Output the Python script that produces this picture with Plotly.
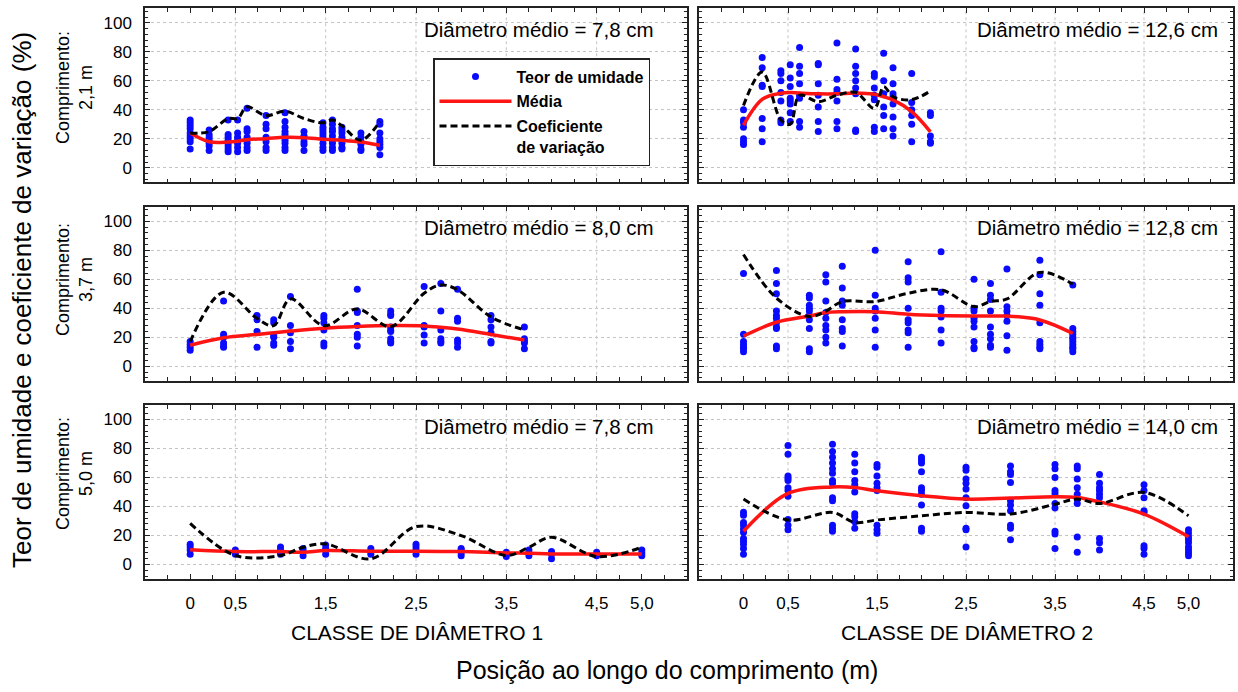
import plotly.graph_objects as go

# ---------------- data ----------------
# measurement positions along the log (m)
POS_21 = [0, 0.21, 0.42, 0.525, 0.63, 0.84, 1.05, 1.26, 1.47, 1.575, 1.68, 1.89, 2.1]
POS_37 = [0, 0.37, 0.74, 0.925, 1.11, 1.48, 1.85, 2.22, 2.59, 2.775, 2.96, 3.33, 3.7]
POS_50 = [0, 0.5, 1.0, 1.25, 1.5, 2.0, 2.5, 3.0, 3.5, 3.75, 4.0, 4.5, 5.0]

# Panel 1: class 1, length 2.1 m
MOIST_1 = [[33, 31, 29, 27, 24, 22, 20, 18, 13], [26, 23, 21, 19, 17, 15, 12],
           [33, 23, 21, 19, 17, 15, 13, 11], [33, 24, 21, 19, 17, 14, 11],
           [41, 27, 25, 21, 19, 17, 14, 12], [36, 30, 27, 21, 18, 14, 12],
           [38, 32, 28, 25, 23, 21, 19, 17, 14, 12], [25, 22, 21, 18, 16, 12],
           [31, 28, 26, 24, 22, 20, 17, 14, 12], [33, 30, 27, 25, 22, 19, 17, 14, 12],
           [28, 26, 24, 21, 19, 17, 14, 13], [24, 21, 18, 16, 13, 12],
           [32, 30, 24, 20, 18, 16, 14, 9]]
MEAN_1 = [24, 18, 17.8, 18.3, 19.4, 20.1, 21, 20.8, 19.7, 19.4, 19, 17.8, 15.5]
CV_1 = [24, 25, 34, 34, 42, 36, 39, 34, 31, 33, 29, 19, 32]

# Panel 2: class 2, length 2.1 m
MOIST_2 = [[40, 33, 31, 28, 20, 18, 16], [76, 69, 57, 56, 34, 27, 18],
           [67, 65, 60, 52, 46, 33, 31], [71, 62, 56, 48, 46, 44, 38, 32],
           [83, 70, 65, 58, 50, 48, 32, 28], [72, 71, 58, 50, 42, 32, 25],
           [86, 61, 54, 52, 46, 32, 27], [82, 70, 65, 60, 55, 51, 26, 25],
           [65, 63, 55, 50, 47, 28, 25], [79, 60, 51, 42, 36, 27],
           [69, 58, 51, 49, 44, 35, 27, 22], [65, 45, 40, 36, 30, 18],
           [38, 36, 22, 18, 17]]
MEAN_2 = [29.4, 47.2, 51.4, 52, 51.6, 51, 51, 51.6, 50.7, 49, 46.8, 38.7, 24.8]
CV_2 = [43, 66, 33, 30, 50, 45.6, 50, 52, 41, 56, 49, 47, 53]

# Panel 3: class 1, length 3.7 m
MOIST_3 = [[17, 15, 13, 11], [45, 22, 20, 16, 14, 13], [35, 32, 24, 13],
           [32, 30, 21, 20, 16, 14.5], [48, 28, 23, 17, 12], [35, 33, 30, 25, 16, 14],
           [53, 38, 37, 28, 22, 20, 14], [38, 36, 35, 27, 25, 24, 19, 17, 16],
           [55, 28, 27, 21.5, 16], [57, 38, 25, 19, 17, 16], [53, 33, 31, 18, 16, 13],
           [35, 32, 27, 23, 17, 16], [27, 19, 17, 16, 12]]
MEAN_3 = [14.5, 19.6, 21.9, 23.1, 24.2, 26.1, 27.3, 28, 27.7, 26.8, 25.6, 21.9, 18]
CV_3 = [17, 51, 33, 28, 46.4, 28, 39.5, 27.3, 50.3, 56, 52.7, 34, 25]

# Panel 4: class 2, length 3.7 m
MOIST_4 = [[64, 22, 17, 15, 13, 12, 10], [66, 57, 50, 38, 35, 33, 30, 27, 26, 14, 12],
           [49, 47, 42, 40, 38, 35, 32, 26, 12, 10], [63, 58, 45, 37, 33, 28, 25, 20, 16],
           [69, 54, 45, 42, 32, 26, 24, 14], [80, 49, 40, 38, 33, 25, 13],
           [72, 61, 58, 40, 32, 30, 25, 23, 13], [79, 51, 40, 38, 34, 25, 16],
           [60, 40, 38, 33, 31, 27, 17, 13, 12], [57, 49, 46, 38, 27, 22, 19, 14.5, 13],
           [67, 41, 38, 35, 31, 21, 11], [73, 63, 50, 42, 30, 17, 15, 13, 12],
           [56, 26, 24, 22, 20, 19, 17, 15, 13, 12, 10]]
MEAN_4 = [20.8, 30.3, 34.6, 37, 37.6, 37.6, 35.8, 34.9, 34.6, 34.6, 34.6, 31.9, 22.6]
CV_4 = [77, 47, 34.2, 38, 44.6, 44.6, 50.3, 52.7, 41.1, 44.6, 46.4, 64.7, 56.6]

# Panel 5: class 1, length 5.0 m
MOIST_5 = [[14, 12, 10, 7], [10, 8.5, 7], [12, 10, 8.5, 7], [11, 9, 6], [13.5, 11, 9.6, 7],
           [11, 9, 7], [14, 12, 10, 7], [11, 10, 8, 6], [8.5, 7, 5.5], [10, 8, 6],
           [9, 7, 4], [8.5, 6], [10, 8, 6]]
MEAN_5 = [10.1, 8.9, 8.9, 8.5, 9.6, 9.2, 9.2, 8.9, 8, 7.8, 7.3, 7.3, 7.3]
CV_5 = [28.4, 6.2, 6.2, 11.9, 14.2, 3.9, 26.1, 19.9, 6.2, 11.9, 18.8, 5.5, 11.9]

# Panel 6: class 2, length 5.0 m
MOIST_6 = [[36, 34, 29, 27, 24.5, 22, 18, 16, 14, 11, 7],
           [82, 76, 61, 59.5, 58, 53, 51, 47, 31, 27, 24],
           [83, 78, 74, 70, 66, 63, 58, 56, 46, 44, 27, 25, 23],
           [76, 70, 64, 58, 55, 50, 35, 33, 29.5, 25],
           [69, 67, 61, 56, 53, 51, 27, 24, 21.5],
           [74, 72, 70, 64, 53, 51, 48.5, 41, 25, 23],
           [67, 65, 59, 56, 52, 46, 40.5, 25, 24, 12],
           [68, 64, 62, 56.5, 44, 41, 37, 27, 25, 17],
           [69, 66, 60, 51, 49, 42, 39, 23, 21, 11],
           [68, 66, 59, 53, 48.5, 45, 42, 19, 8.5],
           [62, 56, 53, 51, 48.5, 46, 18, 15, 10],
           [55, 51, 46, 37, 36, 13, 11, 7],
           [24, 21.5, 19, 17, 15, 12, 10, 8, 6]]
MEAN_6 = [22.9, 49, 53.5, 53.1, 50.8, 47.4, 45.1, 45.8, 46.7, 46.2, 43.2, 34.8, 19.2]
CV_6 = [45.1, 30.7, 35.9, 29, 30.7, 33.6, 35.9, 34.8, 41.6, 45.1, 42.1, 49.7, 33.6]

DIAM_TEXT = ["Diâmetro médio = 7,8 cm", "Diâmetro médio = 12,6 cm",
             "Diâmetro médio = 8,0 cm", "Diâmetro médio = 12,8 cm",
             "Diâmetro médio = 7,8 cm", "Diâmetro médio = 14,0 cm"]
ROW_LABELS = ["Comprimento:<br>2,1 m", "Comprimento:<br>3,7 m", "Comprimento:<br>5,0 m"]
COL_LABELS = ["CLASSE DE DIÂMETRO 1", "CLASSE DE DIÂMETRO 2"]
X_TICKVALS = [0, 0.5, 1.5, 2.5, 3.5, 4.5, 5.0]
X_TICKTEXT = ["0", "0,5", "1,5", "2,5", "3,5", "4,5", "5,0"]
GRID_X = [0.5, 1.5, 2.5, 3.5, 4.5]
Y_TICKVALS = [0, 20, 40, 60, 80, 100]
NAMES = ["Teor de umidade", "Média", "Coeficiente<br>de variação"]

PANELS = [(POS_21, MOIST_1, MEAN_1, CV_1), (POS_21, MOIST_2, MEAN_2, CV_2),
          (POS_37, MOIST_3, MEAN_3, CV_3), (POS_37, MOIST_4, MEAN_4, CV_4),
          (POS_50, MOIST_5, MEAN_5, CV_5), (POS_50, MOIST_6, MEAN_6, CV_6)]

# ---------------- layout geometry (px) ----------------
W, H = 1238, 692
COLS_PX = [(145, 687), (699, 1233)]
ROWS_PX = [(8.3, 182.3), (206.7, 380.7), (405, 579)]
FONT = "Liberation Sans, Arial, sans-serif"
BLUE, RED = "#0a0aff", "#ff1414"

fig = go.Figure()
layout = dict(width=W, height=H, margin=dict(l=0, r=0, t=0, b=0),
              paper_bgcolor="white", plot_bgcolor="white",
              font=dict(family=FONT, size=17, color="black"),
              shapes=[], annotations=[])

for i, (pos, moist, mean, cv) in enumerate(PANELS):
    k = i + 1
    r, c = divmod(i, 2)
    suf = "" if k == 1 else str(k)
    xa, ya = "x" + suf, "y" + suf
    xs, ys = [], []
    for p, vals in zip(pos, moist):
        for v in vals:
            xs.append(p)
            ys.append(v)
    first = (k == 1)
    fig.add_trace(go.Scatter(x=xs, y=ys, mode="markers", xaxis=xa, yaxis=ya,
                             marker=dict(color=BLUE, size=7), name=NAMES[0],
                             showlegend=first, legendgroup="a"))
    fig.add_trace(go.Scatter(x=pos, y=mean, mode="lines", xaxis=xa, yaxis=ya,
                             line=dict(color=RED, width=3.5, shape="spline", smoothing=1),
                             name=NAMES[1], showlegend=first, legendgroup="b"))
    fig.add_trace(go.Scatter(x=pos, y=cv, mode="lines", xaxis=xa, yaxis=ya,
                             line=dict(color="black", width=3, shape="spline",
                                       smoothing=1, dash="7px,4px"),
                             name=NAMES[2], showlegend=first, legendgroup="c"))

    x0, x1 = COLS_PX[c]
    y0, y1 = ROWS_PX[r]
    axis_common = dict(showline=True, linecolor="#222", linewidth=1.5, mirror="allticks",
                       ticks="inside", ticklen=5, tickwidth=1, tickcolor="#222",
                       zeroline=False)
    layout["xaxis" + suf] = dict(
        domain=[x0 / W, x1 / W], anchor=ya, range=[-0.5, 5.5],
        tickmode="array", tickvals=X_TICKVALS, ticktext=X_TICKTEXT,
        showticklabels=(r == 2), showgrid=False, ticklabelstandoff=8,
        minor=dict(dtick=0.25, tick0=0, ticks="inside", ticklen=4, tickcolor="#222",
                   showgrid=False),
        tickfont=dict(size=17), **axis_common)
    layout["yaxis" + suf] = dict(
        domain=[1 - y1 / H, 1 - y0 / H], anchor=xa, range=[-10, 110],
        tickmode="array", tickvals=Y_TICKVALS, showticklabels=(c == 0),
        showgrid=True, gridcolor="#c4c4c4", griddash="dot", gridwidth=1,
        ticklabelstandoff=8,
        minor=dict(dtick=4, tick0=0, ticks="inside", ticklen=3, tickcolor="#222",
                   showgrid=False),
        tickfont=dict(size=17), **axis_common)
    for gx in GRID_X:
        layout["shapes"].append(dict(type="line", xref=xa, yref=ya + " domain",
                                     x0=gx, x1=gx, y0=0, y1=1, layer="below",
                                     line=dict(color="#c4c4c4", width=1, dash="dot")))
    layout["annotations"].append(dict(
        text=DIAM_TEXT[i], xref=xa + " domain", yref=ya + " domain",
        x=(656 - x0) / (x1 - x0) if c == 0 else (1220 - x0) / (x1 - x0),
        y=1 - 21 / (y1 - y0), xanchor="right", yanchor="middle",
        showarrow=False, font=dict(size=20.5)))

# row labels
ROW_LABEL_Y = [88, 280, 474]
for r in range(3):
    layout["annotations"].append(dict(
        text=ROW_LABELS[r], xref="paper", yref="paper", x=74 / W, y=1 - ROW_LABEL_Y[r] / H,
        xanchor="center", yanchor="middle", textangle=-90, showarrow=False,
        font=dict(size=18), align="center"))
# column labels
COL_LABEL_X = [417, 967]
for c in range(2):
    layout["annotations"].append(dict(
        text=COL_LABELS[c], xref="paper", yref="paper", x=COL_LABEL_X[c] / W,
        y=1 - 632 / H, xanchor="center", yanchor="middle", showarrow=False,
        font=dict(size=21)))
# global titles
layout["annotations"].append(dict(
    text="Posição ao longo do comprimento (m)", xref="paper", yref="paper",
    x=667 / W, y=1 - 670 / H, xanchor="center", yanchor="middle", showarrow=False,
    font=dict(size=25)))
layout["annotations"].append(dict(
    text="Teor de umidade e coeficiente de variação (%)", xref="paper", yref="paper",
    x=22 / W, y=1 - 300 / H, xanchor="center", yanchor="middle", textangle=-90,
    showarrow=False, font=dict(size=26)))

layout["legend"] = dict(x=433 / W, y=1 - 58 / H, xanchor="left", yanchor="top",
                        bgcolor="white", bordercolor="#222", borderwidth=1.5,
                        font=dict(size=16, family=FONT, weight="bold"),
                        traceorder="grouped", tracegroupgap=1, valign="top",
                        itemwidth=72)

fig.update_layout(**layout)
fig.write_html("out.html")
